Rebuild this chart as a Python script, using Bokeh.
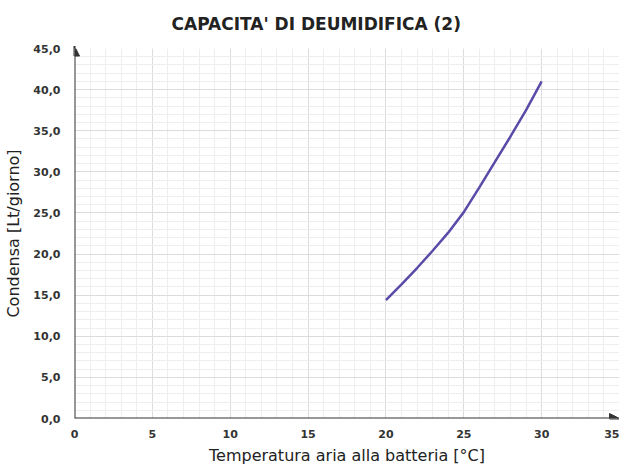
from bokeh.plotting import figure
from bokeh.models import Range1d, Arrow, NormalHead, SingleIntervalTicker, CustomJSTickFormatter
from bokeh.embed import file_html
from bokeh.resources import INLINE

temp = [20, 21, 22, 23, 24, 25, 26, 27, 28, 29, 30]
condensa = [14.4, 16.3, 18.3, 20.4, 22.6, 25.1, 28.1, 31.2, 34.3, 37.5, 41.0]

FONT = "DejaVu Sans"

p = figure(width=619, height=468, output_backend="svg", toolbar_location=None,
           x_range=Range1d(0, 35), y_range=Range1d(0, 45),
           title="CAPACITA' DI DEUMIDIFICA (2)")
p.min_border_left = 74
p.min_border_right = 0
p.min_border_top = 47
p.min_border_bottom = 50
p.outline_line_color = None

p.title.align = "left"
p.title.offset = 97
p.title.standoff = 26
p.title.vertical_align = "top"
p.title.text_font = FONT
p.title.text_font_size = "17px"
p.title.text_font_style = "bold"
p.title.text_color = "#222222"

p.xaxis.ticker = SingleIntervalTicker(interval=5, num_minor_ticks=5)
p.yaxis.ticker = SingleIntervalTicker(interval=5, num_minor_ticks=5)
p.yaxis.formatter = CustomJSTickFormatter(code="return tick.toFixed(1).replace('.', ',');")

for ax in (p.xaxis[0], p.yaxis[0]):
    ax.axis_line_color = None
    ax.major_tick_line_color = None
    ax.minor_tick_line_color = None
    ax.major_label_text_font = FONT
    ax.major_label_text_font_size = "11px"
    ax.major_label_text_font_style = "bold"
    ax.major_label_text_color = "#333333"
    ax.axis_label_text_font = FONT
    ax.axis_label_text_font_size = "16px"
    ax.axis_label_text_font_style = "normal"
    ax.axis_label_text_color = "#222222"

p.xaxis.major_label_standoff = 5
p.yaxis.major_label_standoff = 8
p.xaxis.axis_label_standoff = 5
p.yaxis.axis_label_standoff = 7
p.xaxis.axis_label = "Temperatura aria alla batteria [°C]"
p.yaxis.axis_label = "Condensa [Lt/giorno]"

p.xgrid.grid_line_color = "#dcdcdc"
p.ygrid.grid_line_color = "#dcdcdc"
p.xgrid.minor_grid_line_color = "#eeeeee"
p.ygrid.minor_grid_line_color = "#eeeeee"

p.line(temp, condensa, line_color="#5b4ba8", line_width=2.5)

p.add_layout(Arrow(x_start=0, y_start=0, x_end=0, y_end=45.3, line_color="#333333", line_width=2,
                   end=NormalHead(size=10, fill_color="#333333", line_color="#333333")))
p.add_layout(Arrow(x_start=0, y_start=0, x_end=35, y_end=0, line_color="#333333", line_width=2,
                   end=NormalHead(size=10, fill_color="#333333", line_color="#333333")))

open("out.html", "w").write(file_html(p, INLINE))
